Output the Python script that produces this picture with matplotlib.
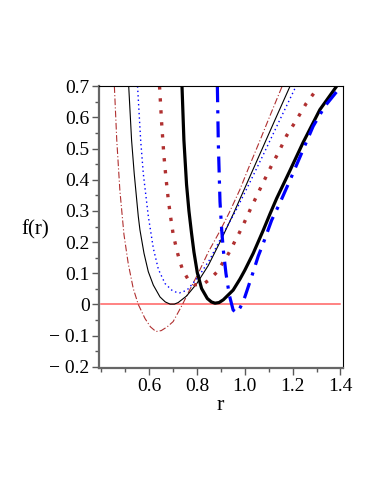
import matplotlib
matplotlib.use("Agg")
import matplotlib.pyplot as plt
from matplotlib.ticker import MultipleLocator

# values
r_a = [0.454, 0.464, 0.477, 0.494, 0.512, 0.533, 0.554, 0.582, 0.605, 0.628,
       0.650, 0.675, 0.700, 0.739, 0.770, 0.805, 0.847, 0.896, 0.935, 0.979,
       1.014, 1.060, 1.105, 1.156]
f_a = [0.700, 0.527, 0.366, 0.225, 0.131, 0.051, 0.000, -0.045, -0.072, -0.087,
       -0.084, -0.072, -0.055, 0.000, 0.048, 0.100, 0.168, 0.236, 0.295, 0.368,
       0.435, 0.520, 0.605, 0.700]

r_b = [0.514, 0.526, 0.537, 0.554, 0.561, 0.578, 0.596, 0.617, 0.645, 0.667,
       0.687, 0.705, 0.721, 0.756, 0.798, 0.847, 0.896, 0.951, 1.021, 1.077,
       1.133, 1.189]
f_b = [0.700, 0.527, 0.420, 0.283, 0.239, 0.164, 0.105, 0.062, 0.024, 0.008,
       0.001, 0.001, 0.006, 0.027, 0.066, 0.125, 0.200, 0.289, 0.410, 0.507,
       0.604, 0.700]

r_c = [0.551, 0.564, 0.575, 0.596, 0.617, 0.638, 0.666, 0.694, 0.710, 0.726,
       0.743, 0.763, 0.805, 0.854, 0.910, 0.965, 1.020, 1.080, 1.145, 1.214]
f_c = [0.700, 0.527, 0.420, 0.283, 0.180, 0.113, 0.067, 0.046, 0.040, 0.037,
       0.041, 0.050, 0.088, 0.145, 0.228, 0.305, 0.390, 0.485, 0.590, 0.700]

r_d = [0.643, 0.652, 0.661, 0.670, 0.680, 0.690, 0.700, 0.712, 0.719, 0.728,
       0.740, 0.763, 0.790, 0.826, 0.854, 0.882, 0.903, 0.924, 0.942, 0.959,
       0.977, 0.993, 1.024, 1.074, 1.108, 1.143, 1.175, 1.217, 1.256, 1.300,
       1.307]
f_d = [0.700, 0.580, 0.480, 0.405, 0.334, 0.277, 0.225, 0.185, 0.163, 0.138,
       0.110, 0.080, 0.063, 0.065, 0.081, 0.103, 0.128, 0.153, 0.177, 0.204,
       0.230, 0.255, 0.307, 0.387, 0.440, 0.491, 0.542, 0.593, 0.644, 0.689,
       0.700]

r_e = [0.737, 0.745, 0.756, 0.766, 0.777, 0.787, 0.801, 0.819, 0.843, 0.860,
       0.875, 0.892, 0.910, 0.951, 0.980, 1.000, 1.035, 1.077, 1.105, 1.133,
       1.189, 1.244, 1.314, 1.384]
f_e = [0.700, 0.527, 0.385, 0.300, 0.228, 0.168, 0.102, 0.051, 0.019, 0.008,
       0.004, 0.006, 0.015, 0.046, 0.082, 0.110, 0.164, 0.238, 0.290, 0.340,
       0.430, 0.520, 0.625, 0.700]

r_f = [0.885, 0.889, 0.896, 0.903, 0.910, 0.921, 0.935, 0.951, 0.966, 0.982,
       1.000, 1.028, 1.056, 1.077, 1.112, 1.147, 1.196, 1.244, 1.286, 1.335,
       1.391, 1.398]
f_f = [0.700, 0.516, 0.330, 0.240, 0.174, 0.099, 0.030, -0.018, -0.027, -0.008,
       0.024, 0.088, 0.155, 0.196, 0.270, 0.326, 0.411, 0.497, 0.572, 0.636,
       0.689, 0.700]

r_zero = [0.4, 1.4]
f_zero = [0.0, 0.0]

BROWN = "#b03030"
BLUE = "#0000ff"

plt.rcParams["font.family"] = ["Liberation Serif", "DejaVu Serif"]

fig = plt.figure(figsize=(3.82, 4.94), dpi=100)
ax = fig.add_axes([0.26, 0.2544, 0.6387, 0.5716])

ax.plot(r_zero, f_zero, color="#ff6060", lw=1.1)
ax.plot(r_a, f_a, color=BROWN, lw=0.8, ls=(0, (6, 2, 1, 2)))
ax.plot(r_b, f_b, color="black", lw=0.8)
ax.plot(r_c, f_c, color=BLUE, lw=1.0, ls=(0, (1, 2.2)))
ax.plot(r_d, f_d, color=BROWN, lw=2.4, ls=(0, (1, 2.6)))
ax.plot(r_e, f_e, color="black", lw=2.3)
ax.plot(r_f, f_f, color=BLUE, lw=2.3, ls=(0, (5, 2.5, 1, 2.5)))

ax.set_xlim(0.391, 1.412)
ax.set_ylim(-0.205, 0.701)
ax.xaxis.set_minor_locator(MultipleLocator(0.1))
ax.yaxis.set_minor_locator(MultipleLocator(0.05))
ax.set_xticks([0.6, 0.8, 1.0, 1.2, 1.4])
ax.set_xticklabels(["0.6", "0.8", "1.0", "1.2", "1.4"])
yt = [-0.2, -0.1, 0, 0.1, 0.2, 0.3, 0.4, 0.5, 0.6, 0.7]
ax.set_yticks(yt)
ax.set_yticklabels(["\u2212 0.2", "\u2212 0.1", "0", "0.1", "0.2", "0.3",
                    "0.4", "0.5", "0.6", "0.7"])
ax.tick_params(which="both", direction="out", labelsize=14, color="0.35")
ax.tick_params(which="major", length=5, width=1, pad=2)
ax.tick_params(which="minor", length=3, width=1)

for side in ("left", "bottom"):
    ax.spines[side].set_linewidth(1.6)
    ax.spines[side].set_color("0.4")
for side in ("right", "top"):
    ax.spines[side].set_linewidth(0.8)
    ax.spines[side].set_color("black")

ax.text(-0.264, 0.49, "f(r)", transform=ax.transAxes, ha="center",
        va="center", fontsize=15)
ax.text(0.497, -0.13, "r", transform=ax.transAxes, ha="center",
        va="center", fontsize=16)

fig.savefig("out.png", dpi=100)
